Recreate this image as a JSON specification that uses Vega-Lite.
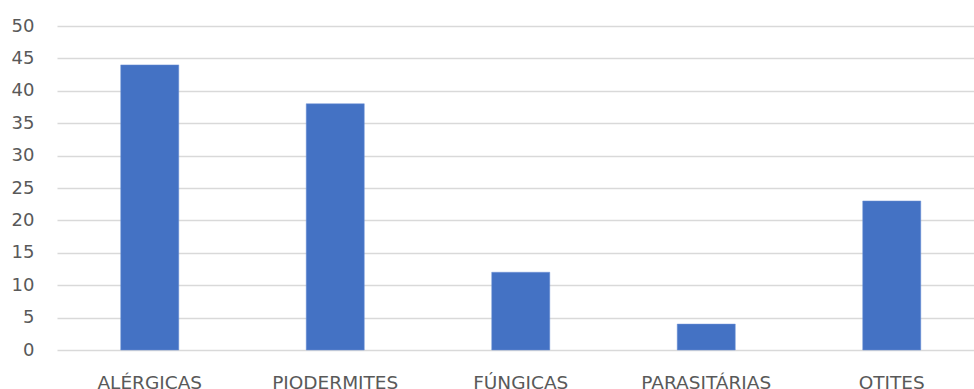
{
  "$schema": "https://vega.github.io/schema/vega-lite/v6.json",
  "autosize": "none",
  "width": 917,
  "height": 324,
  "padding": {"left": 57, "top": 26, "right": 0, "bottom": 39},
  "background": "white",
  "config": {"view": {"stroke": null}, "font": "DejaVu Sans"},
  "data": {"values": [
    {"categoria": "ALÉRGICAS", "valor": 44},
    {"categoria": "PIODERMITES", "valor": 38},
    {"categoria": "FÚNGICAS", "valor": 12},
    {"categoria": "PARASITÁRIAS", "valor": 4},
    {"categoria": "OTITES", "valor": 23}
  ]},
  "mark": {"type": "bar", "color": "#4472C4", "stroke": "#6f93d6", "strokeWidth": 0.5},
  "encoding": {
    "x": {
      "field": "categoria", "type": "nominal", "sort": null,
      "scale": {"paddingInner": 0.687, "paddingOuter": 0.3435, "range": [0, 927.5]},
      "axis": {"title": null, "labelAngle": 0, "ticks": false, "domain": false,
               "labelFontSize": 18.5, "labelColor": "#595959", "labelPadding": 38, "labelBaseline": "alphabetic", "labelFont": "DejaVu Sans"}
    },
    "y": {
      "field": "valor", "type": "quantitative",
      "scale": {"domain": [0, 50], "nice": false},
      "axis": {"title": null, "values": [0,5,10,15,20,25,30,35,40,45,50], "ticks": false, "domain": false,
               "gridColor": "#d9d9d9", "gridWidth": 1.5, "labelFontSize": 18, "labelColor": "#595959", "labelPadding": 23, "labelFont": "DejaVu Sans"}
    }
  }
}
